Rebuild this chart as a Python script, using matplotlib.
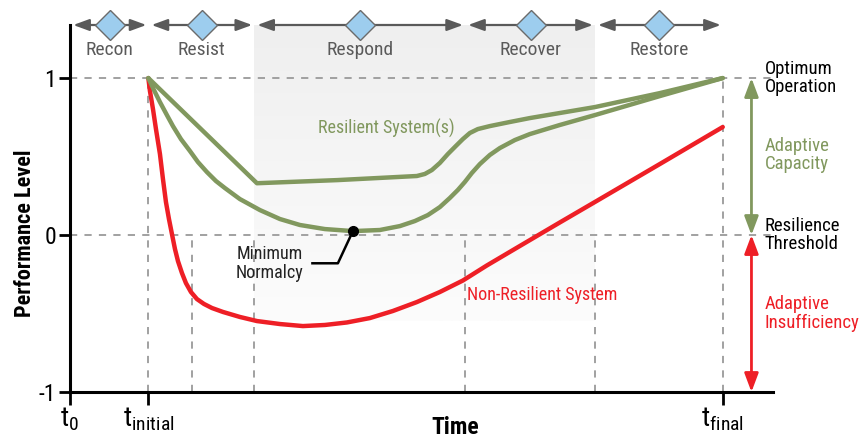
import numpy as np
import matplotlib.pyplot as plt
from matplotlib.colors import LinearSegmentedColormap

plt.rcParams['font.family'] = ['Roboto Condensed', 'DejaVu Sans Condensed', 'Roboto', 'DejaVu Sans']
plt.rcParams['mathtext.default'] = 'regular'

# time markers
t0, t_initial, t_final = 0.0, 1.2, 10.0
phase_edges = [0.0, 1.2, 2.82, 6.05, 8.04, 10.0]
phase_names = ['Recon', 'Resist', 'Respond', 'Recover', 'Restore']
extra_vlines = [1.87, 2.82, 6.05, 8.04]

# non-resilient system
red_x = [1.2, 1.225, 1.271, 1.317, 1.378, 1.424, 1.470, 1.516, 1.562, 1.608, 1.654,
         1.715, 1.776, 1.853, 1.945, 2.052, 2.175, 2.343, 2.603, 2.864, 3.216, 3.568,
         3.905, 4.242, 4.594, 4.946, 5.314, 5.666, 6.018, 6.386, 6.891, 7.504, 8.040,
         9.035, 10.0]
red_y = [1.0, 0.917, 0.803, 0.675, 0.516, 0.357, 0.210, 0.102, 0.006, -0.089, -0.166,
         -0.242, -0.306, -0.363, -0.408, -0.439, -0.465, -0.490, -0.522, -0.548, -0.567, -0.580,
         -0.573, -0.557, -0.529, -0.484, -0.427, -0.363, -0.290, -0.194, -0.070, 0.080, 0.210,
         0.452, 0.688]

# resilient system, upper
up_x = [1.2, 2.864, 4.10, 5.314, 5.436, 5.544, 5.666, 5.789, 5.911, 6.018, 6.126, 6.248,
        6.432, 6.738, 7.044, 8.040, 9.035, 10.0]
up_y = [1.0, 0.330, 0.350, 0.376, 0.389, 0.414, 0.459, 0.516, 0.567, 0.611, 0.650, 0.675,
        0.694, 0.720, 0.745, 0.815, 0.904, 1.0]

# resilient system, lower
lo_x = [1.2, 1.286, 1.378, 1.485, 1.577, 1.700, 1.838, 1.960, 2.098, 2.236, 2.374, 2.603,
        2.910, 3.216, 3.522, 3.905, 4.334, 4.747, 5.054, 5.283, 5.482, 5.666, 5.819, 5.942,
        6.049, 6.156, 6.279, 6.432, 6.585, 6.815, 7.044, 7.504, 8.040, 9.035, 10.0]
lo_y = [1.0, 0.924, 0.847, 0.764, 0.694, 0.611, 0.535, 0.465, 0.401, 0.344, 0.299, 0.229,
        0.159, 0.102, 0.064, 0.038, 0.025, 0.032, 0.057, 0.089, 0.127, 0.178, 0.236, 0.287,
        0.338, 0.395, 0.452, 0.510, 0.554, 0.605, 0.643, 0.701, 0.764, 0.885, 1.0]
min_normalcy = (4.334, 0.025)

GREEN = '#81985e'
RED = '#ee1f26'
GRAY = '#5a5a5a'
DASH = '#9a9a9a'

fig = plt.figure(figsize=(8.6, 4.41), dpi=100)
ax = fig.add_axes([70/860, 49/441, 703/860, 367/441])
ytop = 1.338

# shaded respond/recover band
cmap = LinearSegmentedColormap.from_list('shade', ['#fcfcfc', '#efefef'])
grad = np.linspace(0, 1, 100).reshape(-1, 1)
ax.imshow(grad, extent=(phase_edges[2], phase_edges[4], -0.55, ytop), origin='lower',
          aspect='auto', cmap=cmap, zorder=0)

# dashed guides
ax.axhline(1, color=DASH, lw=1.3, ls=(0, (4, 4)), zorder=1)
ax.axhline(0, color=DASH, lw=1.3, ls=(0, (4, 4)), zorder=1)
ax.vlines([t_initial, t_final], -1, 1, color=DASH, lw=1.3, ls=(0, (4, 4)), zorder=1)
ax.vlines(extra_vlines, -1, 0, color=DASH, lw=1.3, ls=(0, (4, 4)), zorder=1)

# curves
for xs, ys, c in [(red_x, red_y, RED), (up_x, up_y, GREEN), (lo_x, lo_y, GREEN)]:
    ax.plot(xs, ys, color=c, lw=3.2, solid_capstyle='round', solid_joinstyle='round', zorder=3)

# minimum normalcy marker
mx, my = min_normalcy
ax.plot([mx, mx - 0.23, mx - 0.62], [my, -0.18, -0.18], color='black', lw=1.8, zorder=4)
ax.plot(mx, my, 'o', color='black', ms=7, zorder=5)
ax.text(3.06, -0.18, 'Minimum\nNormalcy', ha='center', va='center', fontsize=13,
        linespacing=1.05, color='#222222')

ax.text(4.84, 0.68, 'Resilient System(s)', ha='center', va='center', fontsize=13, color=GREEN)
ax.text(7.23, -0.38, 'Non-Resilient System', ha='center', va='center', fontsize=13, color=RED)

# phase arrows on top
for i, name in enumerate(phase_names):
    a, b = phase_edges[i] + 0.05, phase_edges[i + 1] - 0.03
    ax.annotate('', xy=(b, ytop), xytext=(a, ytop), annotation_clip=False,
                arrowprops=dict(arrowstyle='<|-|>,head_length=0.6,head_width=0.22',
                                color=GRAY, lw=1.6, mutation_scale=16, shrinkA=0, shrinkB=0))
    mid = (a + b) / 2
    ax.plot(mid, ytop, marker='D', ms=15, mfc='#9dcdee', mec='#6b6b6b', mew=1,
            clip_on=False, zorder=6)
    ax.text(mid, 1.18, name, ha='center', va='center', fontsize=14, color=GRAY)

# right-hand capacity arrows
ax.annotate('', xy=(10.44, 1.0), xytext=(10.44, 0.0), annotation_clip=False,
            arrowprops=dict(arrowstyle='<|-|>,head_length=0.8,head_width=0.3',
                            color=GREEN, lw=2, mutation_scale=14, shrinkA=0, shrinkB=0))
ax.annotate('', xy=(10.44, 0.0), xytext=(10.44, -1.0), annotation_clip=False,
            arrowprops=dict(arrowstyle='<|-|>,head_length=0.8,head_width=0.3',
                            color=RED, lw=2, mutation_scale=14, shrinkA=0, shrinkB=0))
ax.text(10.64, 1.0, 'Optimum\nOperation', ha='left', va='center', fontsize=13.5, linespacing=1.05)
ax.text(10.64, 0.51, 'Adaptive\nCapacity', ha='left', va='center', fontsize=13.5, color=GREEN, linespacing=1.05)
ax.text(10.64, 0.0, 'Resilience\nThreshold', ha='left', va='center', fontsize=13.5, linespacing=1.05)
ax.text(10.64, -0.50, 'Adaptive\nInsufficiency', ha='left', va='center', fontsize=13.5, color=RED, linespacing=1.05)

# axes
ax.set_xlim(0, 10.77)
ax.set_ylim(-1, ytop)
for s in ['top', 'right']:
    ax.spines[s].set_visible(False)
for s in ['left', 'bottom']:
    ax.spines[s].set_linewidth(2.2)
ax.set_yticks([-1, 0, 1])
ax.set_yticklabels(['-1', '0', '1'])
ax.set_xticks([t0, t_initial, t_final])
ax.set_xticklabels([r'$t_0$', r'$t_{initial}$', r'$t_{final}$'])
ax.tick_params(axis='y', length=8, width=2, labelsize=17, pad=2)
ax.tick_params(axis='x', length=9, width=2, labelsize=20, pad=1)

fig.text(25/860, 0.472, 'Performance Level', rotation=90, ha='center', va='center',
         fontsize=16, fontweight='bold')
fig.text(455/860, 0.03, 'Time', ha='center', va='center', fontsize=17, fontweight='bold')

fig.savefig('out.png', dpi=100)
